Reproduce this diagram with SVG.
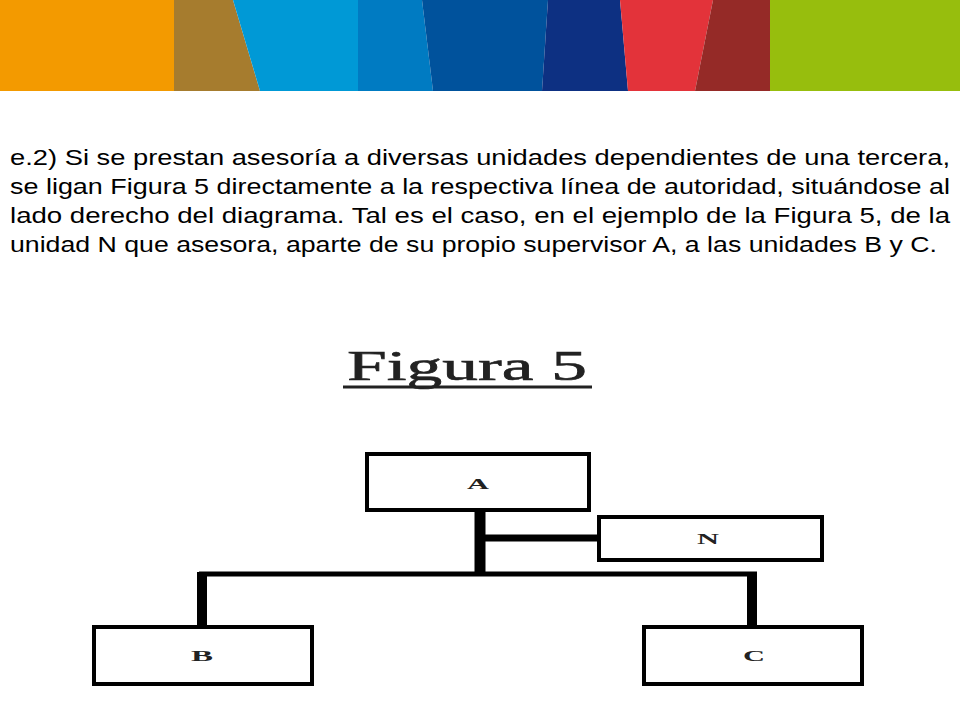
<svg xmlns="http://www.w3.org/2000/svg" width="960" height="720" viewBox="0 0 960 720">
<style>
.para{font-family:"Liberation Sans",Arial,sans-serif;font-size:22px;fill:#000}
.box{fill:#fff;stroke:#000;stroke-width:4}
.lbl{font-family:"Liberation Serif","Times New Roman",serif;font-size:15px;font-weight:bold;fill:#222;text-anchor:middle}
.conn{stroke:#000;fill:none}
</style>
<rect width="960" height="720" fill="#fff"/>
<g id="banner">
<rect x="0" y="0" width="175" height="91" fill="#F39A00"/>
<polygon points="174,0 233,0 260,91 174,91" fill="#A67C2E"/>
<polygon points="233,0 358,0 358,91 260,91" fill="#0099D6"/>
<polygon points="358,0 422,0 433,91 358,91" fill="#007BC2"/>
<polygon points="422,0 548,0 542,91 433,91" fill="#00529C"/>
<polygon points="548,0 620,0 628,91 542,91" fill="#0D3082"/>
<polygon points="620,0 713,0 695,91 628,91" fill="#E3333A"/>
<polygon points="713,0 771,0 771,91 695,91" fill="#952A27"/>
<rect x="770" y="0" width="190" height="91" fill="#97BE0D"/>
</g>
<g id="paragraph" class="para">
<text x="10" y="165" textLength="940" lengthAdjust="spacingAndGlyphs">e.2) Si se prestan asesoría a diversas unidades dependientes de una tercera,</text>
<text x="10" y="194" textLength="940" lengthAdjust="spacingAndGlyphs">se ligan Figura 5 directamente a la respectiva línea de autoridad, situándose al</text>
<text x="10" y="223" textLength="940" lengthAdjust="spacingAndGlyphs">lado derecho del diagrama. Tal es el caso, en el ejemplo de la Figura 5, de la</text>
<text x="10" y="252" textLength="927" lengthAdjust="spacingAndGlyphs">unidad N que asesora, aparte de su propio supervisor A, a las unidades B y C.</text>
</g>
<g id="title">
<text x="467" y="380" font-family="'Liberation Serif','Times New Roman',serif" font-size="42" fill="#222" stroke="#222" stroke-width="0.6" text-anchor="middle" textLength="240" lengthAdjust="spacingAndGlyphs">Figura 5</text>
<line x1="343" y1="387" x2="592" y2="387" stroke="#222" stroke-width="3"/>
</g>
<g id="connectors">
<line class="conn" x1="480" y1="510" x2="480" y2="574" stroke-width="11"/>
<line class="conn" x1="485" y1="538" x2="600" y2="538" stroke-width="7"/>
<line class="conn" x1="199" y1="574" x2="757" y2="574" stroke-width="5"/>
<line class="conn" x1="202" y1="572" x2="202" y2="626" stroke-width="10"/>
<line class="conn" x1="752" y1="572" x2="752" y2="626" stroke-width="10"/>
</g>
<g id="node-A">
<rect class="box" x="367" y="454" width="222" height="56"/>
<text class="lbl" x="478" y="489" textLength="22" lengthAdjust="spacingAndGlyphs">A</text>
</g>
<g id="node-N">
<rect class="box" x="599" y="517" width="223" height="43"/>
<text class="lbl" x="708" y="544" textLength="22" lengthAdjust="spacingAndGlyphs">N</text>
</g>
<g id="node-B">
<rect class="box" x="94" y="627" width="218" height="57"/>
<text class="lbl" x="202" y="661" textLength="22" lengthAdjust="spacingAndGlyphs">B</text>
</g>
<g id="node-C">
<rect class="box" x="644" y="627" width="218" height="57"/>
<text class="lbl" x="754" y="661" textLength="22" lengthAdjust="spacingAndGlyphs">C</text>
</g>
</svg>
